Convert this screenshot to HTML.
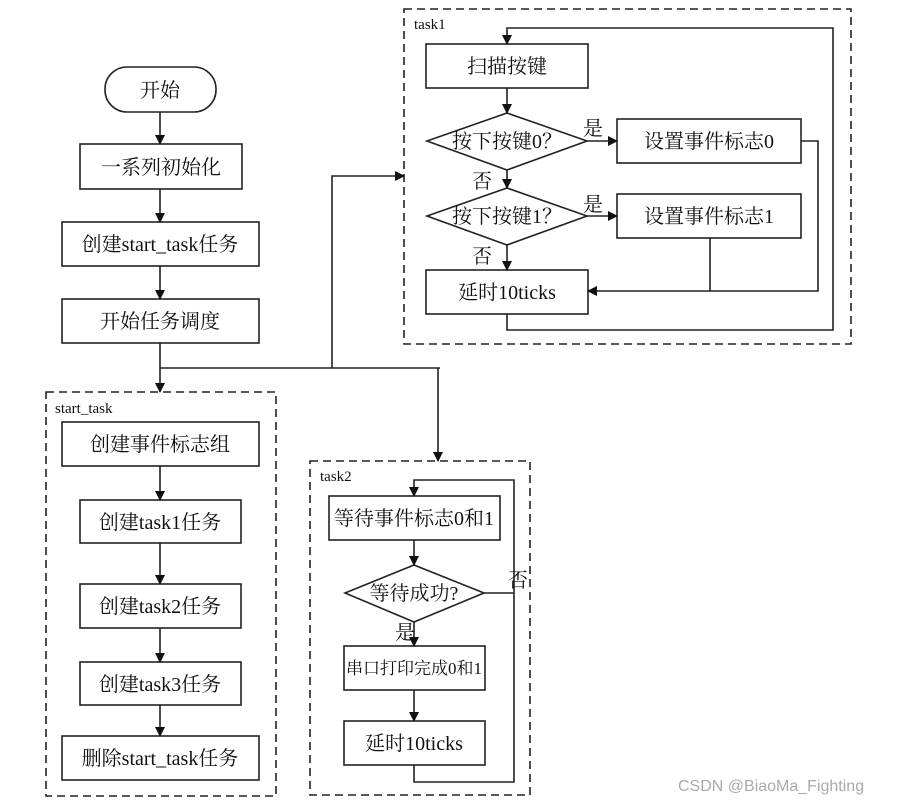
<!DOCTYPE html>
<html><head><meta charset="utf-8"><style>
html,body{margin:0;padding:0;background:#fff;}
svg text{font-family:"Liberation Serif","Noto Serif CJK SC","Noto Sans CJK SC",serif;fill:#111;}
</style></head><body>
<svg width="907" height="804" viewBox="0 0 907 804" xmlns="http://www.w3.org/2000/svg">
<defs><marker id="a" markerWidth="10" markerHeight="10" refX="9" refY="5" orient="auto" markerUnits="userSpaceOnUse"><path d="M0,0 L10,5 L0,10 z" fill="#111"/></marker></defs>
<g fill="none" stroke="#222" stroke-width="1.6">
<rect x="404" y="9" width="447" height="335" stroke-dasharray="8,5"/>
<rect x="46" y="392" width="230" height="404" stroke-dasharray="8,5"/>
<rect x="310" y="461" width="220" height="334" stroke-dasharray="8,5"/>
<rect x="105" y="67" width="111" height="45" rx="22"/>
<rect x="80" y="144" width="162" height="45"/>
<rect x="62" y="222" width="197" height="44"/>
<rect x="62" y="299" width="197" height="44"/>
<line x1="160" y1="112" x2="160" y2="144" marker-end="url(#a)"/>
<line x1="160" y1="189" x2="160" y2="222" marker-end="url(#a)"/>
<line x1="160" y1="266" x2="160" y2="299" marker-end="url(#a)"/>
<line x1="160" y1="343" x2="160" y2="392" marker-end="url(#a)"/>
<line x1="160" y1="368" x2="440" y2="368"/>
<polyline points="332,368 332,176 404,176" marker-end="url(#a)"/>
<line x1="438" y1="368" x2="438" y2="461" marker-end="url(#a)"/>
<rect x="62" y="422" width="197" height="44"/>
<rect x="80" y="500" width="161" height="43"/>
<rect x="80" y="584" width="161" height="44"/>
<rect x="80" y="662" width="161" height="43"/>
<rect x="62" y="736" width="197" height="44"/>
<line x1="160" y1="466" x2="160" y2="500" marker-end="url(#a)"/>
<line x1="160" y1="543" x2="160" y2="584" marker-end="url(#a)"/>
<line x1="160" y1="628" x2="160" y2="662" marker-end="url(#a)"/>
<line x1="160" y1="705" x2="160" y2="736" marker-end="url(#a)"/>
<rect x="426" y="44" width="162" height="44"/>
<polygon points="427,141 507,113 587,141 507,170"/>
<polygon points="427,216 507,188 587,216 507,245"/>
<rect x="617" y="119" width="184" height="44"/>
<rect x="617" y="194" width="184" height="44"/>
<rect x="426" y="270" width="162" height="44"/>
<line x1="507" y1="88" x2="507" y2="113" marker-end="url(#a)"/>
<line x1="507" y1="170" x2="507" y2="188" marker-end="url(#a)"/>
<line x1="507" y1="245" x2="507" y2="270" marker-end="url(#a)"/>
<line x1="587" y1="141" x2="617" y2="141" marker-end="url(#a)"/>
<line x1="587" y1="216" x2="617" y2="216" marker-end="url(#a)"/>
<polyline points="801,141 818,141 818,291 588,291" marker-end="url(#a)"/>
<line x1="710" y1="238" x2="710" y2="291"/>
<polyline points="507,314 507,330 833,330 833,28 507,28 507,44" marker-end="url(#a)"/>
<rect x="329" y="496" width="171" height="44"/>
<polygon points="345,593 414,565 484,593 414,622"/>
<rect x="344" y="646" width="141" height="44"/>
<rect x="344" y="721" width="141" height="44"/>
<line x1="414" y1="540" x2="414" y2="565" marker-end="url(#a)"/>
<line x1="414" y1="622" x2="414" y2="646" marker-end="url(#a)"/>
<line x1="414" y1="690" x2="414" y2="721" marker-end="url(#a)"/>
<polyline points="484,593 514,593"/>
<polyline points="414,765 414,782 514,782 514,480 414,480 414,496" marker-end="url(#a)"/>
</g>
<g font-size="20" text-anchor="middle">
<text x="160" y="97">开始</text>
<text x="161" y="174">一系列初始化</text>
<text x="160" y="251">创建start_task任务</text>
<text x="160" y="328">开始任务调度</text>
<text x="160" y="451">创建事件标志组</text>
<text x="160" y="529">创建task1任务</text>
<text x="160" y="613">创建task2任务</text>
<text x="160" y="691">创建task3任务</text>
<text x="160" y="765">删除start_task任务</text>
<text x="507" y="73">扫描按键</text>
<text x="507" y="148">按下按键0？</text>
<text x="507" y="223">按下按键1？</text>
<text x="709" y="148">设置事件标志0</text>
<text x="709" y="223">设置事件标志1</text>
<text x="507" y="299">延时10ticks</text>
<text x="414" y="525">等待事件标志0和1</text>
<text x="414" y="600">等待成功?</text>
<text x="414" y="750">延时10ticks</text>
<text x="593" y="135">是</text>
<text x="593" y="211">是</text>
<text x="482" y="188">否</text>
<text x="482" y="263">否</text>
<text x="518" y="587">否</text>
<text x="405" y="639">是</text>
</g>
<text x="414" y="674" font-size="17" text-anchor="middle">串口打印完成0和1</text>
<g font-size="15">
<text x="414" y="29">task1</text>
<text x="55" y="413">start_task</text>
<text x="320" y="481">task2</text>
</g>
<text x="678" y="791" font-size="16" style="font-family:'Liberation Sans',sans-serif;fill:#aaa">CSDN @BiaoMa_Fighting</text>
</svg>
</body></html>
